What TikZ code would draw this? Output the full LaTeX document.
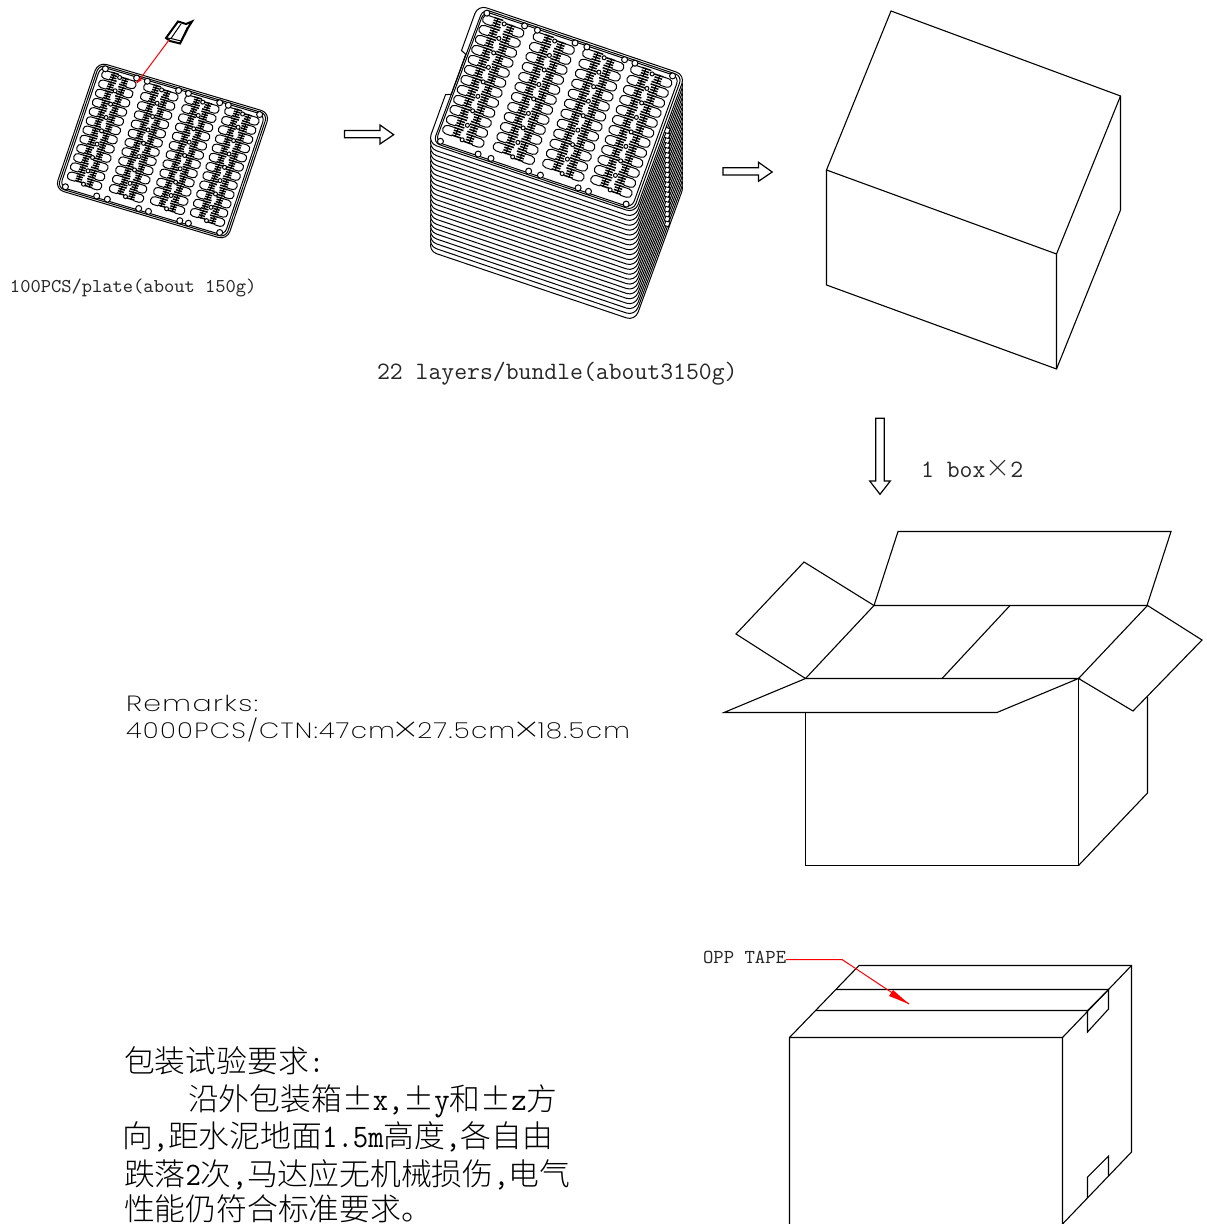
\documentclass[tikz,border=0pt]{standalone}
\usepackage{fontspec}
\usepackage{graphicx}
\newfontfamily\cjk{Noto Sans CJK SC Light}
\newfontfamily\remfont[LetterSpace=5]{Poppins ExtraLight}
\newcommand\hwt[1]{{\fontsize{14.93}{14.93}\selectfont\ttfamily\scalebox{1}[1.1]{#1}}}
\newcommand\fwt[1]{\makebox[1em]{#1}}
\newcommand\remx{\makebox[9.4pt]{\cjk\fontsize{12}{12}\selectfont ×}}
\newcommand\platedetail{%
  \foreach \c in {0.142,0.386,0.625,0.857}{
    \foreach \r in {0,...,8}{
      \draw[plate] ({\c},{0.065+\r*0.105}) circle[radius=1pt];
    }
    \foreach \d/\o in {1/0.045,-1/0.06}{
      \pgfmathsetmacro\uo{\c-\d*0.095}
      \foreach \r in {0,...,11}{
        \pgfmathsetmacro\bb{\o+\r*0.0725}
        \draw[plate] ({\uo+\d*0.044},\bb)--({\uo+\d*0.014},\bb)
          .. controls ({\uo-\d*0.012},\bb) and ({\uo-\d*0.012},{\bb+0.06}) .. ({\uo+\d*0.014},{\bb+0.06})
          --({\uo+\d*0.044},{\bb+0.06});
        \draw[lead] ({\uo+\d*0.042},\bb)--({\uo+\d*0.086},\bb);
        \draw[lead] ({\uo+\d*0.044},{\bb+0.018})--({\uo+\d*0.08},{\bb+0.018});
        \draw[lead] ({\uo+\d*0.044},{\bb+0.036})--({\uo+\d*0.08},{\bb+0.036});
        \draw[lead] ({\uo+\d*0.042},{\bb+0.054})--({\uo+\d*0.086},{\bb+0.054});
        \draw[plate] ({\uo+\d*0.06},{\bb-0.006})--({\uo+\d*0.06},{\bb+0.06});
      }
      \draw[plate,fill=white] ({\uo+\d*0.004},0.033) circle[radius=1.5pt];
      \draw[plate,fill=white] ({\uo+\d*0.004},0.962) circle[radius=1.5pt];
    }
  }
}
\tikzset{
  boxline/.style={line width=.55pt,line join=miter,draw=black},
  plate/.style={line width=.5pt},
  lead/.style={line width=.75pt},
  layer/.style={line width=.5pt,fill=white,rounded corners=4.5pt},
  inner/.style={line width=.5pt,rounded corners=3.5pt},
  red line/.style={draw=red,line width=.5pt},
  txt/.style={anchor=base west,inner sep=0pt,outer sep=0pt,text=black!85},
  cjktxt/.style={txt,font=\cjk\fontsize{15.4}{15.4}\selectfont,text=black},
}
\begin{document}
\begin{tikzpicture}[x=.5pt,y=-.5pt]
\useasboundingbox (0,0) rectangle (1206,1224);

% ---- single plate
\begin{scope}[shift={(98,62)},x={(86pt,-25.5pt)},y={(-21.5pt,-63.5pt)}]
  \draw[layer] (0,0)--(1,0)--(1,1)--(0,1)--cycle;
  \draw[inner] (.011,.014)--(.989,.014)--(.989,.986)--(.011,.986)--cycle;
  \draw[inner] (.022,.026)--(.978,.026)--(.978,.974)--(.022,.974)--cycle;
  \platedetail
\end{scope}
% ---- motor item
\draw[boxline,line width=1pt,fill=white] (166,38)--(178,21.5)--(186,24)--(192,21.5)--(188.5,27)--(180,43.5)--(170,41)--cycle;
\draw[boxline,line width=.5pt] (171,38.5)--(181,24) (171,38.5)--(181,41) (181,41)--(187.5,27) (166,38)--(171,38.5);
\coordinate (itemfoot) at (169,40);
\coordinate (itemtip) at (137,83);
\draw[red line] (itemfoot)--(itemtip);
\fill[red] (itemtip)--(139,78)--(142,80)--cycle;

% ---- stack
\begin{scope}[shift={(478,5)},x={(103.5pt,-35pt)},y={(-25pt,-69pt)}]
  \foreach \i in {22,21,...,1}{
    \begin{scope}[yshift={-\i*2.45pt}]
      \ifnum\i<20
      \draw[boxline,line width=.45pt,fill=white] (1,0.38)--(1.02,0.38)--(1.02,0.415)--(1,0.415);
      \fi
      \draw[layer] (0,0)--(1,0)--(1,1)--(0,1)--cycle;
    \end{scope}
  }
  \draw[boxline,line width=.45pt,fill=white] (1,0.38)--(1.02,0.38)--(1.02,0.415)--(1,0.415);
  \draw[layer] (0,0)--(1,0)--(1,1)--(0,1)--cycle;
  % recess in the left rim of the top plate
  \draw[white,line width=1.2pt] (0,.335)--(0,.645);
  \draw[line width=.5pt] (0,.33)--(.024,.345)--(.024,.635)--(0,.65);
  \draw[inner] (.028,.014)--(.989,.014)--(.989,.986)--(.022,.986)--cycle;
  \draw[inner] (.036,.026)--(.978,.026)--(.978,.974)--(.03,.974)--cycle;
  \platedetail
\end{scope}

% ---- hollow arrows
\draw[boxline,line width=.6pt] (344.5,130.5)--(380,130.5)--(380,125)--(393.7,134.7)--(380,144)--(380,137.7)--(344.5,137.7)--cycle;
\draw[boxline,line width=.6pt] (723,167.8)--(758.5,167.8)--(758.5,162.3)--(772.2,172)--(758.5,181.3)--(758.5,175)--(723,175)--cycle;
\draw[boxline,line width=.6pt] (875.7,418.3)--(884.3,418.3)--(884.3,481)--(890.3,481)--(880,494.3)--(869.7,481)--(875.7,481)--cycle;

% ---- closed carton
\draw[boxline] (891,11)--(1120.5,96)--(1120.5,210)--(1056.5,369)--(826.5,285)--(826.5,170)--cycle;
\draw[boxline] (826.5,170)--(1056.5,254)--(1120.5,96) (1056.5,254)--(1056.5,369);

% ---- open carton
\draw[boxline] (874,605.5)--(898,531.5)--(1171,531.5)--(1147,605.5)--cycle;
\draw[boxline] (874,605.5)--(804,562)--(736,634)--(805.5,678.5);
\draw[boxline] (805.5,678.5)--(874,605.5) (1010,605.5)--(942,678.5);
\draw[boxline] (805.5,678.5)--(724,712.5)--(997,712.5)--(1078.5,678.5)--cycle;
\draw[boxline] (805.5,712.5)--(805.5,865.5)--(1078.5,865.5)--(1078.5,678.5);
\draw[boxline] (1078.5,678.5)--(1147.5,605.5)--(1202,640)--(1133,711)--cycle;
\draw[boxline] (1147.5,697)--(1147.5,793)--(1078.5,865.5);

% ---- taped carton
\draw[boxline] (789.5,1224)--(789.5,1037.5)--(859,965.5)--(1131.5,965.5)--(1131.5,1152)--(1062.5,1224);
\draw[boxline] (789.5,1037.5)--(1062.5,1037.5)--(1131.5,965.5) (1062.5,1037.5)--(1062.5,1224);
\draw[boxline] (836,989.5)--(1108.5,989.5)--(1108.5,1009)--(1087.5,1032)--(1087.5,1010.5)--(815,1010.5);
\draw[boxline] (1087.5,1010.5)--(1108.5,989.5);
\draw[boxline] (1087.5,1198)--(1087.5,1177)--(1108.5,1156)--(1108.5,1176);

% ---- texts
\node[txt,font=\fontsize{9.78}{9.78}\selectfont\ttfamily] (plabel) at (10,293) {100PCS/plate(about 150g)};
\node[txt,font=\fontsize{12.5}{12.5}\selectfont\ttfamily] (blabel) at (377,380) {22 layers/bundle(about3150g)};
\node[txt,font=\fontsize{12.5}{12.5}\selectfont\ttfamily] (boxlabel) at (921,477) {1 box\makebox[12.5pt]{\cjk ×}2};
\node[txt,font=\fontsize{9.9}{9.9}\selectfont\ttfamily] (opp) at (703,963) {OPP TAPE};
\coordinate (oppbend) at (842,959.5);
\coordinate (opptip) at (909,1004);
\draw[red line] (opp.east |- oppbend)--(oppbend)--(opptip);
\fill[red] (opptip)--(893,990)--(889,996)--cycle;

\node[txt,font=\remfont\fontsize{11}{11}\selectfont,text=black] (rem1) at (126,711) {\resizebox{66pt}{\height}{Remarks:}};
\node[txt,font=\remfont\fontsize{11}{11}\selectfont,text=black] (rem2) at (126,738) {\resizebox{252pt}{\height}{4000PCS/CTN:47cm\remx 27.5cm\remx 18.5cm}};

\node[cjktxt] (t1) at (124,1072) {包装试验要求\hwt{:}};
\node[cjktxt] (t2) at (188,1110) {沿外包装箱\fwt{±}\hwt{x,}\fwt{±}\hwt{y}和\fwt{±}\hwt{z}方};
\node[cjktxt] (t3) at (122,1147.5) {向\hwt{,}距水泥地面\hwt{1.5m}高度\hwt{,}各自由};
\node[cjktxt] (t4) at (124,1185) {跌落\hwt{2}次\hwt{,}马达应无机械损伤\hwt{,}电气};
\node[cjktxt] (t5) at (124,1220) {性能仍符合标准要求。};
\end{tikzpicture}
\end{document}
